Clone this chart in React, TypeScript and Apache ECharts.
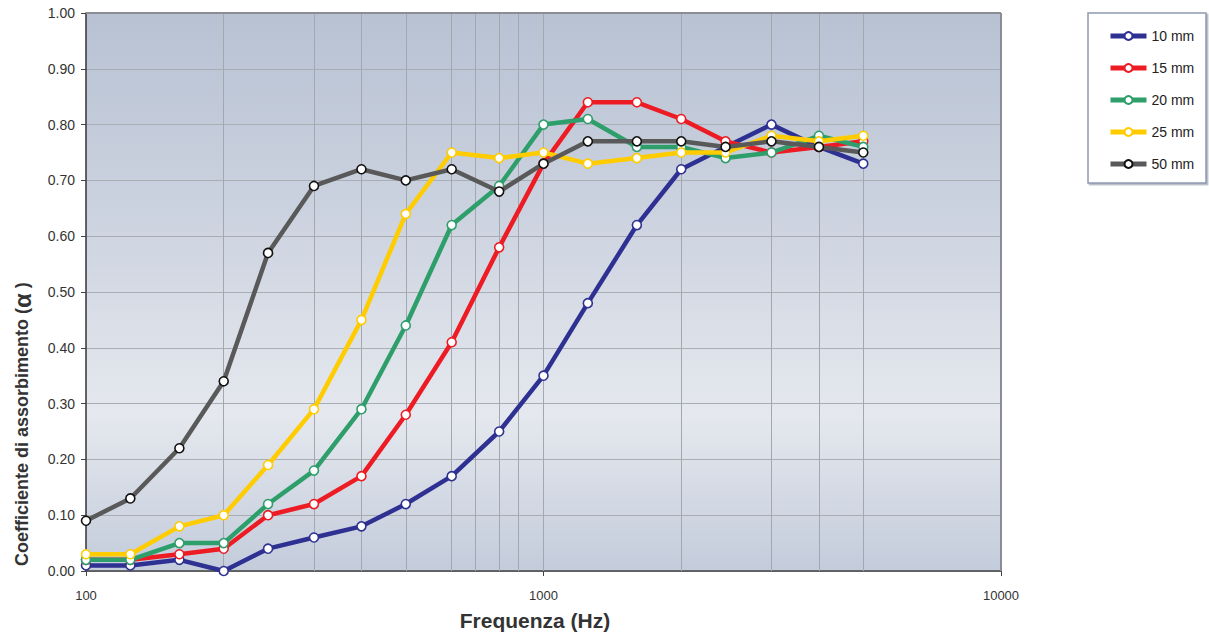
import React, { useEffect, useRef } from "react";
import * as echarts from "echarts";

const frequencies = [100, 125, 160, 200, 250, 315, 400, 500, 630, 800, 1000, 1250, 1600, 2000, 2500, 3150, 4000, 5000];
const s10 = [0.01, 0.01, 0.02, 0.0, 0.04, 0.06, 0.08, 0.12, 0.17, 0.25, 0.35, 0.48, 0.62, 0.72, 0.76, 0.8, 0.76, 0.73];
const s15 = [0.02, 0.02, 0.03, 0.04, 0.1, 0.12, 0.17, 0.28, 0.41, 0.58, 0.73, 0.84, 0.84, 0.81, 0.77, 0.75, 0.76, 0.77];
const s20 = [0.02, 0.02, 0.05, 0.05, 0.12, 0.18, 0.29, 0.44, 0.62, 0.69, 0.8, 0.81, 0.76, 0.76, 0.74, 0.75, 0.78, 0.76];
const s25 = [0.03, 0.03, 0.08, 0.1, 0.19, 0.29, 0.45, 0.64, 0.75, 0.74, 0.75, 0.73, 0.74, 0.75, 0.75, 0.78, 0.77, 0.78];
const s50 = [0.09, 0.13, 0.22, 0.34, 0.57, 0.69, 0.72, 0.7, 0.72, 0.68, 0.73, 0.77, 0.77, 0.77, 0.76, 0.77, 0.76, 0.75];
const seriesNames = ["10 mm", "15 mm", "20 mm", "25 mm", "50 mm"];
const seriesColors = ["#2e3192", "#ed1c24", "#2e9e6b", "#ffcc00", "#595959"];
const borderColors = ["#2e3192", "#ed1c24", "#2e9e6b", "#ffcc00", "#111111"];
const gridFreqs = [200, 315, 400, 500, 630, 710, 800, 880, 1000, 2000, 3150, 4000, 5000];
const xTitle = "Frequenza (Hz)";
const yTitleText = "Coefficiente di assorbimento (";
const yTitleSymbol = "α";

const FONT = "'Liberation Sans', Arial, sans-serif";

export default function App() {
  const ref = useRef<HTMLDivElement>(null);
  useEffect(() => {
    document.body.style.margin = "0";
    const chart = echarts.init(ref.current!, null, { renderer: "svg" });
    const all = [s10, s15, s20, s25, s50];
    const lineSeries = all.map((vals, i) => ({
      name: seriesNames[i],
      type: "line",
      data: frequencies.map((f, j) => [f, vals[j]]),
      symbol: "circle",
      symbolSize: 9,
      z: 3 + i,
      lineStyle: { color: seriesColors[i], width: 4.5 },
      itemStyle: { color: "#ffffff", borderColor: borderColors[i], borderWidth: 1.6 },
      emphasis: { disabled: true },
    }));
    chart.setOption({
      animation: false,
      grid: {
        left: 86,
        right: 208,
        top: 13,
        bottom: 65,
        show: true,
        borderWidth: 0,
        backgroundColor: {
          type: "linear",
          x: 0,
          y: 0,
          x2: 0,
          y2: 1,
          colorStops: [
            { offset: 0, color: "#b8c2d3" },
            { offset: 0.35, color: "#cbd2df" },
            { offset: 0.72, color: "#e5e8ee" },
            { offset: 1, color: "#c3ccdb" },
          ],
        },
      },
      legend: {
        data: seriesNames,
        orient: "vertical",
        left: 1108,
        top: 29,
        padding: 0,
        itemWidth: 36,
        itemHeight: 10,
        itemGap: 18,
        lineStyle: { width: 5 },
        textStyle: { fontFamily: FONT, fontSize: 14, color: "#222" },
        selectedMode: false,
      },
      graphic: [
        {
          type: "rect",
          shape: { x: 1088, y: 13, width: 118, height: 170 },
          style: { fill: "#ffffff", stroke: "#8f9bb0", lineWidth: 1.5, shadowColor: "rgba(100,110,130,0.5)", shadowOffsetX: 1.5, shadowOffsetY: 1.5, shadowBlur: 0 },
          z: -1,
        },
        {
          type: "text",
          x: 535,
          y: 620,
          style: {
            text: xTitle,
            font: `bold 21px ${FONT}`,
            fill: "#333",
            align: "center",
            verticalAlign: "middle",
          },
        },
        {
          type: "text",
          x: 22,
          y: 566,
          rotation: Math.PI / 2,
          style: {
            text: `{t|${yTitleText}}{a|${yTitleSymbol}}{t| )}`,
            align: "left",
            verticalAlign: "middle",
            rich: {
              t: { fontFamily: FONT, fontSize: 18, fontWeight: "bold", fill: "#333", color: "#333" },
              a: { fontFamily: FONT, fontSize: 24, fontWeight: "bold", fill: "#333", color: "#333" },
            },
          },
        },
      ],
      xAxis: {
        type: "log",
        logBase: 10,
        min: 100,
        max: 10000,
        axisLine: { show: true, lineStyle: { color: "#444", width: 1.5 } },
        axisTick: { show: true, length: 5, lineStyle: { color: "#444" } },
        axisLabel: { fontFamily: FONT, fontSize: 13, color: "#333", margin: 18, formatter: (v: number) => String(Math.round(v)) },
        splitLine: { show: false },
        minorTick: { show: false },
      },
      yAxis: {
        type: "value",
        min: 0,
        max: 1,
        interval: 0.1,
        axisLine: { show: true, lineStyle: { color: "#333", width: 1.5 } },
        axisTick: { show: true, inside: false, length: 5, lineStyle: { color: "#444" } },
        axisLabel: { fontFamily: FONT, fontSize: 14, color: "#333", margin: 11, formatter: (v: number) => v.toFixed(2) },
        splitLine: { show: true, lineStyle: { color: "#a9adb4", width: 1 } },
      },
      series: [
        {
          name: "grid",
          type: "line",
          data: [],
          z: 1,
          silent: true,
          markLine: {
            z: 1,
            silent: true,
            symbol: "none",
            label: { show: false },
            lineStyle: { color: "#a3a7ae", width: 1, type: "solid" },
            data: gridFreqs.map((f) => ({ xAxis: f })),
          },
        },
        {
          name: "border",
          type: "line",
          data: [],
          z: 1,
          silent: true,
          markLine: {
            z: 1,
            silent: true,
            symbol: "none",
            label: { show: false },
            lineStyle: { color: "#8a8d93", width: 2, type: "solid" },
            data: [{ yAxis: 1 }, { xAxis: 10000 }],
          },
        },
        ...lineSeries,
      ],
    });
    return () => chart.dispose();
  }, []);
  return <div ref={ref} style={{ width: 1209, height: 636 }} />;
}
